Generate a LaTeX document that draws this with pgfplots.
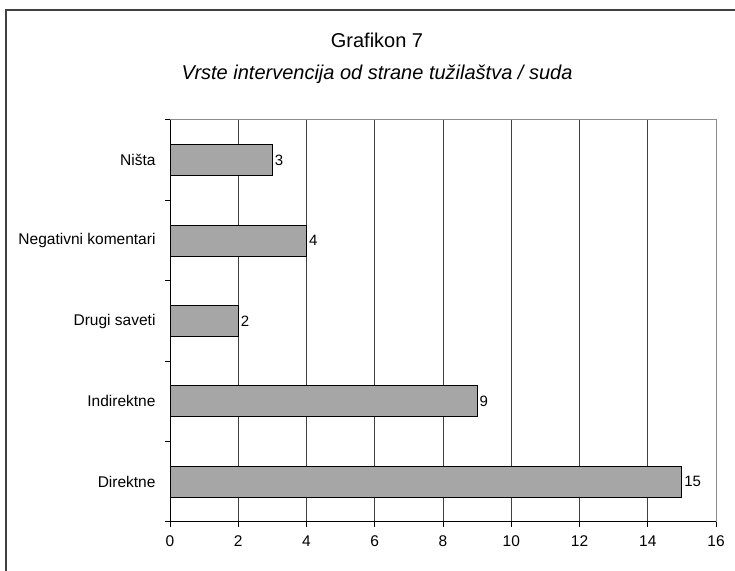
\documentclass[border=0pt]{standalone}
\usepackage{fontspec}
\setmainfont{Liberation Sans}
\usepackage{pgfplots}
\pgfplotsset{compat=1.18}
\begin{document}
\begin{tikzpicture}[x=1bp,y=1bp]
\useasboundingbox (0,0) rectangle (735,571);
% outer frame (runs off the right and bottom edge)
\draw[line width=2bp, black!75] (6,-10) -- (6,561) -- (745,561);
\node[anchor=base] at (377,523) {\fontsize{20bp}{24bp}\selectfont Grafikon 7};
\node[anchor=base] at (377,491) {\fontsize{20bp}{24bp}\selectfont\itshape Vrste intervencija od strane tužilaštva / suda};
\begin{axis}[
  at={(170bp,49bp)}, anchor=south west,
  width=546bp, height=402bp, scale only axis,
  xbar, xmin=0, xmax=16, ymin=0.5, ymax=5.5,
  xtick={0,2,...,16},
  ytick={1,...,5},
  yticklabels={Direktne,Indirektne,Drugi saveti,Negativni komentari,Ništa},
  minor ytick={0.5,1.5,...,5.5},
  xtick pos=bottom, ytick pos=left,
  tick align=outside,
  major tick length=5bp, minor tick length=5bp,
  major y tick style={draw=none},
  tick style={black, line width=1bp},
  xmajorgrids,
  grid style={black!75, line width=1bp},
  axis line style={black!45, line width=1bp},
  /pgf/number format/assume math mode=true,
  ticklabel style={font=\fontsize{15.5bp}{18bp}\selectfont},
  yticklabel style={font=\fontsize{15.5bp}{18bp}\selectfont, xshift=-6bp},
  xticklabel style={yshift=-5bp},
]
\addplot[fill=black!35, draw=black, line width=1bp, bar width=31bp,
  nodes near coords,
  nodes near coords style={font=\fontsize{15bp}{18bp}\selectfont, anchor=west, inner sep=2bp}]
  coordinates {(15,1) (9,2) (2,3) (4,4) (3,5)};
\draw[black, line width=1.5bp] (rel axis cs:0,1) -- (rel axis cs:0,0) -- (rel axis cs:1,0);
\end{axis}
\end{tikzpicture}
\end{document}
